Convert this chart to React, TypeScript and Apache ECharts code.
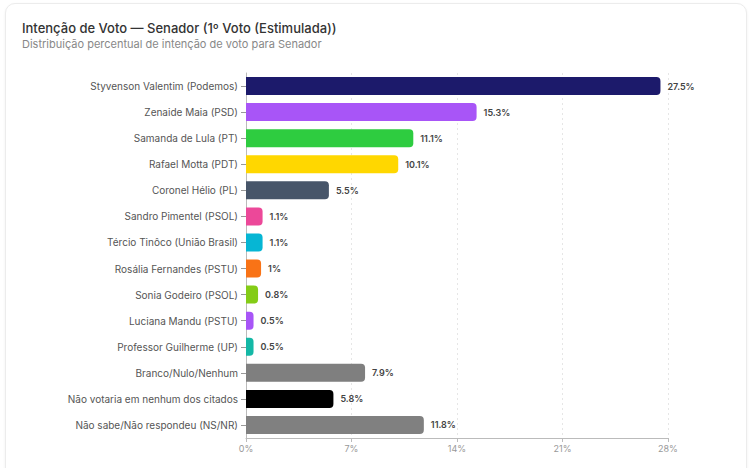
import React, { useEffect, useRef } from "react";
import * as echarts from "echarts";

const categories = [
  "Styvenson Valentim (Podemos)",
  "Zenaide Maia (PSD)",
  "Samanda de Lula (PT)",
  "Rafael Motta (PDT)",
  "Coronel Hélio (PL)",
  "Sandro Pimentel (PSOL)",
  "Tércio Tinôco (União Brasil)",
  "Rosália Fernandes (PSTU)",
  "Sonia Godeiro (PSOL)",
  "Luciana Mandu (PSTU)",
  "Professor Guilherme (UP)",
  "Branco/Nulo/Nenhum",
  "Não votaria em nenhum dos citados",
  "Não sabe/Não respondeu (NS/NR)",
];
const values = [27.5, 15.3, 11.1, 10.1, 5.5, 1.1, 1.1, 1, 0.8, 0.5, 0.5, 7.9, 5.8, 11.8];
const colors = [
  "#1c1a6b", "#a855f7", "#2ecc40", "#ffd700", "#475569", "#ec4899", "#06b6d4",
  "#f97316", "#84cc16", "#a855f7", "#14b8a6", "#7f7f7f", "#000000", "#808080",
];
const xTicks = [0, 7, 14, 21, 28];

const FONT = "Inter, 'Noto Sans', sans-serif";

export default function App() {
  const ref = useRef<HTMLDivElement>(null);
  useEffect(() => {
    document.body.style.margin = "0";
    const chart = echarts.init(ref.current!, null, { renderer: "svg" });
    chart.setOption({
      animation: false,
      textStyle: { fontFamily: FONT },
      title: {
        text: "Intenção de Voto — Senador (1º Voto (Estimulada))",
        subtext: "Distribuição percentual de intenção de voto para Senador",
        left: 17,
        top: 16,
        itemGap: 4,
        textStyle: { fontSize: 13, fontWeight: 500, color: "#333", fontFamily: FONT },
        subtextStyle: { fontSize: 11, color: "#888", fontFamily: FONT },
      },
      grid: { left: 246, right: 82, top: 73, bottom: 30, containLabel: false },
      xAxis: {
        type: "value",
        min: xTicks[0],
        max: xTicks[xTicks.length - 1],
        interval: 7,
        axisLine: { show: true, lineStyle: { color: "#bbb" } },
        axisTick: { show: true, lineStyle: { color: "#bbb" }, length: 4 },
        axisLabel: { formatter: "{value}%", color: "#999", fontSize: 9, margin: 6 },
        splitLine: { show: true, lineStyle: { color: "#e6e6e6", type: [2, 3] } },
      },
      yAxis: {
        type: "category",
        data: categories,
        inverse: true,
        axisLine: { show: true, lineStyle: { color: "#bbb" } },
        axisTick: { show: true, alignWithLabel: true, lineStyle: { color: "#999" }, length: 5 },
        axisLabel: { color: "#555", fontSize: 10, margin: 8 },
        splitLine: { show: false },
      },
      series: [
        {
          type: "bar",
          data: values.map((v, i) => ({ value: v, itemStyle: { color: colors[i] } })),
          barWidth: 18,
          itemStyle: { borderRadius: [0, 4, 4, 0] },
          label: {
            show: true,
            position: "right",
            distance: 7,
            formatter: "{c}%",
            fontSize: 9,
            fontWeight: 600,
            color: "#444",
          },
        },
      ],
    });
    return () => chart.dispose();
  }, []);
  return (
    <div style={{ position: "relative", width: 750, height: 468, overflow: "hidden", background: "#fff" }}>
      <div
        style={{
          position: "absolute",
          left: 5,
          top: 3,
          width: 740,
          height: 490,
          border: "1px solid #ececec",
          borderRadius: 10,
          boxShadow: "0 1px 3px rgba(0,0,0,0.06)",
          background: "#fff",
        }}
      />
      <div ref={ref} style={{ position: "absolute", left: 0, top: 0, width: 750, height: 468 }} />
    </div>
  );
}
